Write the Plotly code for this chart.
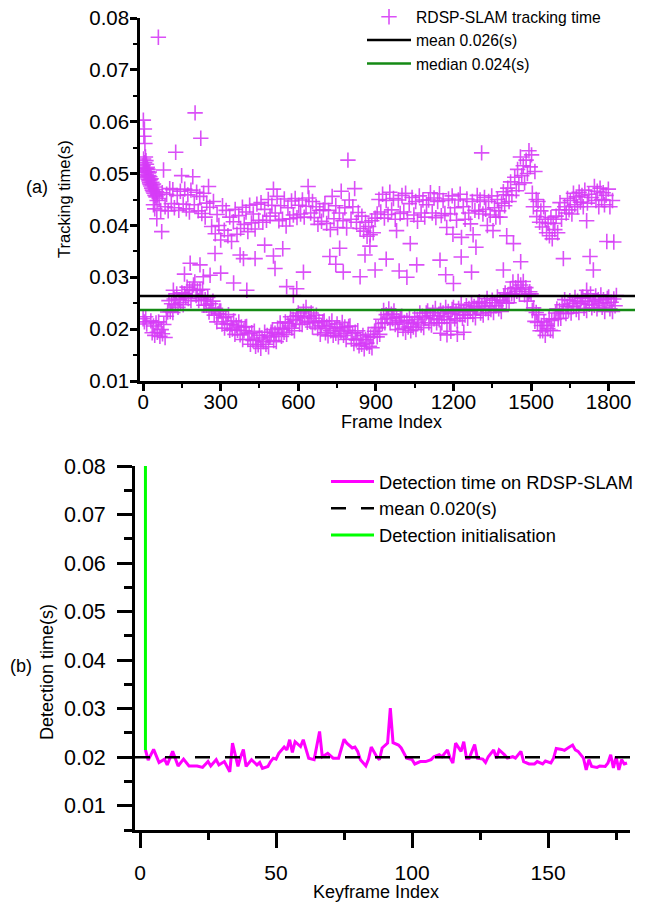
import plotly.graph_objects as go

# ---------------- (a) tracking time per frame (values in ms) ----------------
# dense lower band, one value every 5 frames starting at frame 30
lower_start = 30
lower_step = 5
lower_ms = [
    21.6, 19.3, 20.6, 18.8, 21.2, 19.4, 21.4, 18.6, 19.9, 19.1, 20.9, 18.4, 22.5, 23.3,
    25.5, 23.4, 24.9, 23.2, 25.8, 24.7, 26.8, 24.2, 25.7, 25.1, 27.0, 24.7, 26.8, 26.2, 28.1, 25.9, 27.7, 25.5, 27.5, 28.5,
    29.1, 26.5, 27.5, 25.5, 27.6, 26.0, 27.7, 24.6, 25.7, 24.6, 26.1, 23.3, 24.9, 24.0, 25.4, 22.7, 24.0, 21.4, 23.0, 23.5,
    23.5, 21.0, 22.2, 20.2, 22.4, 21.0, 22.8, 19.8, 20.9, 20.0, 21.6, 19.0, 20.7, 19.8, 21.4, 18.9, 20.4, 18.0, 19.7, 20.4,
    20.5, 18.0, 19.1, 17.1, 19.3, 17.8, 19.6, 16.7, 17.9, 17.0, 18.8, 16.3, 18.3, 17.6, 19.4, 17.1, 18.8, 16.6, 18.5, 19.4,
    19.9, 17.8, 19.2, 17.6, 20.2, 19.0, 21.2, 18.6, 20.0, 19.4, 21.4, 19.0, 21.1, 20.6, 22.4, 20.2, 21.9, 19.7, 21.7, 22.6,
    23.1, 21.0, 22.5, 20.9, 23.4, 22.2, 24.2, 21.3, 22.5, 21.5, 23.1, 20.4, 22.1, 21.2, 22.7, 20.1, 21.5, 19.0, 20.7, 21.4,
    21.6, 19.3, 20.5, 18.7, 21.0, 19.7, 21.6, 18.8, 20.1, 19.2, 21.0, 18.5, 20.3, 19.6, 21.3, 18.8, 20.4, 18.0, 19.8, 20.5,
    20.6, 18.1, 19.2, 17.2, 19.4, 17.9, 19.7, 16.8, 18.0, 17.1, 18.8, 16.2, 18.0, 17.3, 19.0, 16.7, 18.5, 16.4, 18.5, 19.6,
    20.3, 18.5, 20.3, 19.0, 21.9, 21.1, 23.6, 21.2, 22.8, 22.1, 23.9, 21.2, 22.9, 22.0, 23.5, 20.9, 22.3, 19.9, 21.6, 22.3,
    22.5, 20.1, 21.3, 19.4, 21.7, 20.4, 22.4, 19.7, 21.1, 20.4, 22.3, 19.9, 21.9, 21.3, 23.1, 20.8, 22.5, 20.3, 22.2, 23.1,
    23.5, 21.2, 22.6, 20.8, 23.2, 22.0, 24.0, 21.2, 22.6, 21.8, 23.6, 21.2, 23.1, 22.4, 24.2, 21.8, 23.4, 21.2, 23.0, 23.8,
    24.2, 22.0, 23.3, 21.6, 24.0, 22.8, 24.8, 22.1, 23.4, 22.7, 24.5, 22.1, 24.0, 23.4, 25.1, 22.8, 24.4, 22.2, 24.0, 24.9,
    25.3, 23.1, 24.4, 22.7, 25.1, 23.9, 25.9, 23.2, 24.5, 23.8, 25.6, 23.2, 25.1, 24.5, 26.2, 23.9, 25.6, 23.4, 25.4, 26.4,
    27.0, 25.0, 26.6, 25.1, 27.8, 26.8, 29.1, 26.5, 28.0, 27.3, 29.2, 26.7, 28.5, 27.7, 29.2, 26.6, 28.0, 25.4, 26.8, 27.2,
    26.8, 23.6, 24.1, 21.5, 23.2, 21.3, 22.8, 19.7, 20.7, 19.7, 21.4, 18.8, 20.7, 20.1, 22.0, 19.8, 21.7, 19.7, 21.9, 23.1,
    23.9, 22.0, 23.6, 22.1, 24.7, 23.6, 25.7, 23.0, 24.4, 23.7, 25.5, 23.1, 25.0, 24.4, 26.1, 23.8, 25.4, 23.2, 25.0, 25.9,
    26.2, 24.0, 25.3, 23.6, 26.0, 24.8, 26.8, 24.1, 25.4, 24.6, 26.4, 23.9, 25.7, 25.0, 26.6, 24.2, 25.7, 23.4, 25.1, 25.9,
    26.2, 23.9, 25.2, 23.4, 25.8, 24.5, 26.5,
]

# scattered (frame, ms) points: start-up frames, the slow ~0.04 s band and outliers
upper_points = [
    (0, 22.0), (5, 21.4), (10, 22.4), (14, 21.0),
    (1150, 19.2), (1175, 18.9), (1190, 19.6), (1215, 19.0), (1240, 19.4),
    (0, 51.5), (1, 60.3), (2, 52.8), (3, 57.2), (4, 50.6), (5, 58.6), (6, 52.1), (7, 55.8), (8, 51.0), (9, 53.2),
    (10, 50.2), (11, 52.5), (12, 49.8), (13, 51.8), (14, 50.9), (15, 49.5), (16, 51.2), (17, 50.4), (18, 49.2),
    (19, 50.8), (20, 48.9), (21, 50.1), (22, 49.6), (23, 48.6), (24, 50.3), (25, 48.2), (26, 49.4), (27, 47.9),
    (28, 48.8), (30, 47.6), (31, 49.0), (33, 47.2), (34, 48.3), (36, 46.8), (37, 47.8), (39, 46.5), (40, 48.0),
    (42, 46.2), (44, 47.4), (46, 45.8), (48, 46.9), (50, 45.5), (52, 46.5), (54, 44.8), (56, 45.9),
    (53, 41.3), (72, 38.8), (40, 44.0), (45, 43.2), (59, 76.3),
    (62, 45.2), (68, 42.9), (74, 46.3), (79, 50.7), (85, 43.6), (91, 46.0), (97, 42.8), (103, 47.1),
    (109, 44.2), (115, 46.9), (121, 43.4), (126, 54.1), (132, 45.8), (138, 42.9), (144, 46.6), (149, 49.6),
    (155, 44.1), (161, 47.0), (167, 43.2), (173, 45.9), (179, 42.6), (185, 46.8), (192, 49.4), (198, 44.0),
    (201, 61.7), (207, 46.4), (213, 42.8), (219, 45.6), (223, 56.8), (227, 42.3), (234, 46.2), (240, 41.6),
    (246, 44.3), (253, 47.5),
    (117, 27.5), (182, 32.7), (220, 32.4), (233, 30.1), (259, 30.4), (160, 30.6),
    (258, 43.5), (265, 39.8), (272, 44.6), (279, 38.4), (286, 42.1), (293, 40.0), (300, 37.2), (307, 43.8),
    (314, 39.1), (321, 42.9), (328, 38.0), (335, 41.6), (342, 36.9), (349, 40.7), (356, 43.1), (363, 38.3),
    (370, 41.9), (377, 39.4), (384, 43.5), (391, 40.2), (398, 42.6), (405, 38.8), (412, 43.9), (419, 40.5),
    (426, 42.2), (433, 39.3), (440, 44.1), (447, 41.0),
    (278, 34.6), (375, 34.3), (388, 33.6), (401, 27.5), (433, 33.6), (350, 28.9), (300, 30.8),
    (456, 44.4), (463, 40.6), (470, 43.1), (477, 41.0), (484, 45.0), (491, 41.8), (498, 43.9), (504, 47.0),
    (511, 42.4), (518, 45.6), (525, 40.9), (532, 43.8), (539, 41.2), (546, 45.1), (553, 39.9), (560, 43.4),
    (567, 41.3), (574, 44.7), (581, 42.0), (588, 45.2), (595, 41.5), (602, 43.9), (609, 42.2), (616, 44.9),
    (623, 41.6), (630, 43.7), (638, 47.5), (641, 45.3), (648, 42.4), (655, 44.6), (662, 41.5), (669, 43.6),
    (676, 40.2), (683, 42.9), (690, 40.8), (697, 43.0),
    (504, 34.1), (510, 31.7), (555, 28.2), (594, 27.8), (581, 26.5), (540, 35.5), (470, 36.2), (620, 31.0),
    (703, 44.2), (710, 40.4), (717, 42.9), (724, 39.2), (731, 45.6), (738, 41.3), (745, 43.8), (752, 39.6),
    (759, 42.4), (766, 46.6), (773, 40.9), (780, 43.4), (787, 39.5), (792, 52.6), (797, 44.9), (804, 41.2),
    (811, 43.6), (818, 47.1), (825, 40.6), (832, 42.5), (839, 39.4), (846, 41.8), (853, 38.9), (860, 40.6),
    (866, 37.9), (872, 39.8), (878, 38.2), (884, 40.9), (890, 38.6), (897, 41.4),
    (722, 34.0), (745, 32.5), (774, 31.0), (839, 30.1), (858, 34.3), (877, 36.0), (897, 31.4), (760, 35.6),
    (905, 42.2), (912, 45.0), (919, 42.6), (926, 46.0), (933, 41.4), (940, 44.8), (947, 42.1), (954, 46.4),
    (961, 43.0), (968, 45.2), (975, 41.2), (980, 39.0), (987, 44.9), (994, 42.3), (1001, 45.8), (1008, 42.6),
    (1015, 46.2), (1022, 41.3), (1029, 44.2), (1033, 36.5), (1040, 45.4), (1047, 42.0), (1054, 44.6),
    (1061, 40.8), (1068, 45.7), (1075, 42.4), (1082, 44.9), (1089, 41.6), (1096, 44.0),
    (1058, 32.4), (990, 31.2), (1020, 30.0), (940, 33.5),
    (1104, 44.9), (1111, 46.3), (1118, 42.4), (1125, 45.3), (1132, 41.5), (1139, 44.6), (1146, 46.1),
    (1153, 41.9), (1160, 44.8), (1167, 42.3), (1174, 39.6), (1181, 45.1), (1188, 42.2), (1195, 45.7),
    (1198, 38.3), (1205, 43.4), (1212, 41.0), (1219, 44.9), (1226, 46.0), (1231, 37.7), (1238, 43.6),
    (1245, 41.2), (1252, 45.1), (1259, 42.4), (1266, 40.3), (1273, 44.6), (1276, 38.2), (1283, 42.9),
    (1287, 35.8), (1292, 45.8), (1298, 42.7),
    (1148, 33.3), (1200, 28.8), (1170, 30.5), (1230, 33.9), (1270, 31.0),
    (1303, 44.9), (1309, 54.0), (1314, 42.2), (1320, 45.4), (1325, 43.1), (1331, 40.0), (1336, 44.6),
    (1342, 42.0), (1348, 45.7), (1353, 39.0), (1359, 43.4), (1364, 41.6), (1370, 45.0), (1375, 42.8),
    (1380, 41.6), (1386, 44.3), (1393, 46.5), (1398, 43.8), (1404, 45.9), (1406, 38.0), (1410, 47.2),
    (1415, 44.6), (1421, 48.4), (1426, 45.8), (1432, 36.5), (1437, 49.3), (1443, 46.7), (1448, 50.8),
    (1453, 47.9), (1459, 53.2), (1464, 49.6), (1470, 51.5), (1475, 48.2), (1481, 52.6), (1486, 50.0),
    (1492, 54.4), (1497, 51.3), (1502, 53.6), (1505, 46.2), (1509, 43.6), (1515, 50.4), (1520, 45.0),
    (1393, 31.4), (1460, 33.0),
    (1522, 41.7), (1527, 44.6), (1533, 40.6), (1538, 42.8), (1544, 39.7), (1549, 43.6), (1555, 41.2),
    (1560, 38.6), (1566, 40.4), (1571, 38.0), (1577, 41.5), (1582, 37.4), (1586, 40.4), (1592, 39.2),
    (1597, 41.8), (1603, 38.6), (1608, 43.0), (1612, 44.4), (1618, 41.2), (1625, 33.6), (1630, 43.6),
    (1636, 42.4), (1641, 45.2), (1647, 43.0), (1652, 44.8), (1658, 42.2), (1664, 46.2), (1669, 44.0),
    (1675, 45.5), (1680, 43.6), (1686, 46.4), (1691, 44.5), (1697, 45.8), (1702, 43.6), (1708, 46.8),
    (1715, 40.9), (1718, 44.3), (1723, 46.0), (1728, 34.0), (1734, 45.4), (1741, 31.4), (1745, 47.5),
    (1751, 44.8), (1756, 46.6), (1762, 43.6), (1767, 47.2), (1773, 45.0), (1779, 46.3), (1784, 44.0),
    (1790, 45.8), (1793, 36.9), (1799, 47.0), (1805, 43.6), (1815, 44.8), (1820, 36.8), (1715, 27.5),
]

track_mean_s = 0.0264
track_median_s = 0.0237

# ---------------- (b) detection time per keyframe (values in ms) ----------------
det_keyframes = [2, 3, 5, 7, 9, 10, 12, 14, 16, 18,
                 21, 23, 25, 26, 28, 29, 31, 33, 34, 36,
                 37, 38, 39, 41, 43, 44, 45, 47, 48, 49,
                 50, 51, 53, 54, 55, 56, 57, 59, 60, 62,
                 64, 65, 66, 67, 69, 71, 73, 75, 76, 78,
                 79, 80, 81, 83, 84, 85, 87, 88, 89, 91,
                 92, 93, 95, 96, 98, 100, 101, 103, 105, 107,
                 108, 110, 111, 113, 114, 115, 116, 118, 119, 120,
                 121, 123, 124, 126, 127, 128, 130, 131, 132, 134,
                 135, 137, 138, 140, 141, 143, 145, 146, 148, 149,
                 151, 152, 153, 155, 156, 157, 159, 160, 161, 163,
                 164, 165, 166, 168, 169, 171, 172, 173, 174, 175,
                 176, 177, 178, 179]
det_ms = [21.5, 19.4, 21.6, 18.9, 19.6, 18.4, 21.2, 18.2, 19.6, 18.2,
          18.2, 17.9, 19.1, 18.2, 19.5, 18.4, 19.1, 17.0, 22.9, 18.1,
          20.1, 21.6, 18.1, 19.5, 18.4, 18.9, 17.7, 18.1, 19.1, 19.8,
          19.6, 20.8, 22.1, 21.5, 23.6, 21.0, 23.2, 22.2, 23.6, 19.8,
          19.5, 22.2, 25.3, 20.1, 20.8, 19.8, 19.8, 23.7, 22.9, 21.9,
          22.1, 21.2, 19.5, 18.2, 19.6, 22.1, 20.1, 19.5, 21.9, 22.9,
          30.1, 23.0, 22.5, 21.9, 19.8, 19.5, 18.6, 19.1, 19.1, 19.5,
          20.1, 20.5, 20.1, 21.5, 19.8, 18.8, 22.9, 21.2, 23.2, 19.8,
          19.8, 22.6, 19.8, 19.6, 18.9, 20.1, 21.5, 19.8, 21.5, 20.5,
          19.8, 20.1, 19.8, 21.2, 19.1, 18.6, 18.6, 19.1, 18.6, 19.2,
          18.8, 19.8, 21.8, 21.6, 21.4, 21.8, 22.5, 21.5, 21.2, 19.8,
          17.4, 19.5, 18.1, 17.9, 18.2, 18.1, 18.8, 20.5, 17.8, 20.1,
          17.4, 19.5, 18.6, 18.8]
det_mean_s = 0.020
init_keyframe = 2
init_ms = [21.5, 80.0]

# ---------------- axis ranges ----------------
x1_range = [-12, 1902]
y1_range = [0.01, 0.08]
x2_range = [-1.84, 180.1]
y2_range = [0.005, 0.08]

W, H = 654, 903
FONT = "Liberation Sans, Arial, sans-serif"
VIOLET = "rgba(214,60,246,0.9)"


def px(x):
    return x / W


def py(y):
    return 1 - y / H


lower_frames = list(range(lower_start, lower_start + lower_step * len(lower_ms), lower_step))
track_frames = [p[0] for p in upper_points] + lower_frames
track_s = [p[1] / 1000 for p in upper_points] + [v / 1000 for v in lower_ms]

fig = go.Figure()

fig.add_trace(go.Scatter(
    x=track_frames, y=track_s, mode="markers", name="RDSP-SLAM tracking time",
    marker=dict(symbol="cross-thin-open", size=11, color=VIOLET, line=dict(width=1.6, color=VIOLET)),
    xaxis="x", yaxis="y", legend="legend"))
fig.add_trace(go.Scatter(
    x=x1_range, y=[track_mean_s, track_mean_s], mode="lines", name="mean 0.026(s)",
    line=dict(color="black", width=2.5), xaxis="x", yaxis="y", legend="legend"))
fig.add_trace(go.Scatter(
    x=x1_range, y=[track_median_s, track_median_s], mode="lines", name="median 0.024(s)",
    line=dict(color="#148a14", width=2.5), xaxis="x", yaxis="y", legend="legend"))

fig.add_trace(go.Scatter(
    x=det_keyframes, y=[v / 1000 for v in det_ms], mode="lines", name="Detection time on RDSP-SLAM",
    line=dict(color="#ff00ff", width=3), xaxis="x2", yaxis="y2", legend="legend2", legendrank=1))
fig.add_trace(go.Scatter(
    x=[init_keyframe, init_keyframe], y=[v / 1000 for v in init_ms], mode="lines",
    name="Detection initialisation",
    line=dict(color="#00ff00", width=3), xaxis="x2", yaxis="y2", legend="legend2", legendrank=3))
fig.add_trace(go.Scatter(
    x=x2_range, y=[det_mean_s, det_mean_s], mode="lines", name="mean 0.020(s)",
    line=dict(color="black", width=2.5, dash="15px,15px"), xaxis="x2", yaxis="y2",
    legend="legend2", legendrank=2))

axis_common = dict(showline=True, linecolor="black", showgrid=False, zeroline=False,
                   ticks="outside", tickcolor="black", automargin=False)

fig.update_layout(
    width=W, height=H, margin=dict(l=0, r=0, t=0, b=0),
    paper_bgcolor="white", plot_bgcolor="white",
    font=dict(family=FONT, color="black"),
    showlegend=True,
    xaxis=dict(domain=[px(140), px(635)], range=x1_range, anchor="y", linewidth=2.5,
               ticklen=7, tickwidth=2.5, tick0=0, dtick=300, tickformat="d", ticklabelstandoff=-6,
               tickfont=dict(family=FONT, size=20.5, color="black"),
               minor=dict(ticks="outside", ticklen=4, tickwidth=2, tickcolor="black", dtick=150, tick0=0),
               **axis_common),
    yaxis=dict(domain=[py(381), py(18)], range=y1_range, anchor="x", linewidth=2.5,
               ticklen=7, tickwidth=2.5, tick0=0, dtick=0.01, tickformat=".2f", ticklabelstandoff=-3,
               tickfont=dict(family=FONT, size=20.5, color="black"),
               minor=dict(ticks="outside", ticklen=4, tickwidth=2, tickcolor="black", dtick=0.005, tick0=0),
               **axis_common),
    xaxis2=dict(domain=[px(135), px(630)], range=x2_range, anchor="y2", linewidth=2.7,
                ticklen=15, tickwidth=2.7, tick0=0, dtick=50, tickformat="d", ticklabelstandoff=7,
                tickfont=dict(family=FONT, size=21, color="black"),
                minor=dict(ticks="outside", ticklen=7, tickwidth=2.5, tickcolor="black", dtick=25, tick0=0),
                **axis_common),
    yaxis2=dict(domain=[py(830), py(466)], range=y2_range, anchor="x2", linewidth=2.7,
                ticklen=15, tickwidth=2.7, tick0=0, dtick=0.01, tickformat=".2f", ticklabelstandoff=7,
                tickfont=dict(family=FONT, size=21.5, color="black"),
                minor=dict(ticks="outside", ticklen=8, tickwidth=2.5, tickcolor="black", dtick=0.005, tick0=0),
                **axis_common),
    legend=dict(x=px(362), y=1.0, xanchor="left", yanchor="top", bgcolor="rgba(0,0,0,0)",
                font=dict(family=FONT, size=15.7, color="black"), itemwidth=44, tracegroupgap=0),
    legend2=dict(x=px(326), y=py(463), xanchor="left", yanchor="top", bgcolor="rgba(0,0,0,0)",
                 font=dict(family=FONT, size=18.3, color="black"), itemwidth=43, tracegroupgap=0),
    annotations=[
        dict(text="(a)", x=px(37), y=py(187), xref="paper", yref="paper", showarrow=False,
             xanchor="center", yanchor="middle", font=dict(family=FONT, size=18, color="black")),
        dict(text="(b)", x=px(21), y=py(666), xref="paper", yref="paper", showarrow=False,
             xanchor="center", yanchor="middle", font=dict(family=FONT, size=18, color="black")),
        dict(text="Tracking time(s)", x=px(64), y=py(199), xref="paper", yref="paper", showarrow=False,
             xanchor="center", yanchor="middle", textangle=-90,
             font=dict(family=FONT, size=16.5, color="black")),
        dict(text="Detection time(s)", x=px(47), y=py(672), xref="paper", yref="paper", showarrow=False,
             xanchor="center", yanchor="middle", textangle=-90,
             font=dict(family=FONT, size=18, color="black")),
        dict(text="Frame Index", x=px(391), y=py(422), xref="paper", yref="paper", showarrow=False,
             xanchor="center", yanchor="middle", font=dict(family=FONT, size=18, color="black")),
        dict(text="Keyframe Index", x=px(376), y=py(892), xref="paper", yref="paper", showarrow=False,
             xanchor="center", yanchor="middle", font=dict(family=FONT, size=18, color="black")),
    ],
)

fig.write_html("out.html", config={"displayModeBar": False},
               post_script="document.body.style.margin='0px';")
